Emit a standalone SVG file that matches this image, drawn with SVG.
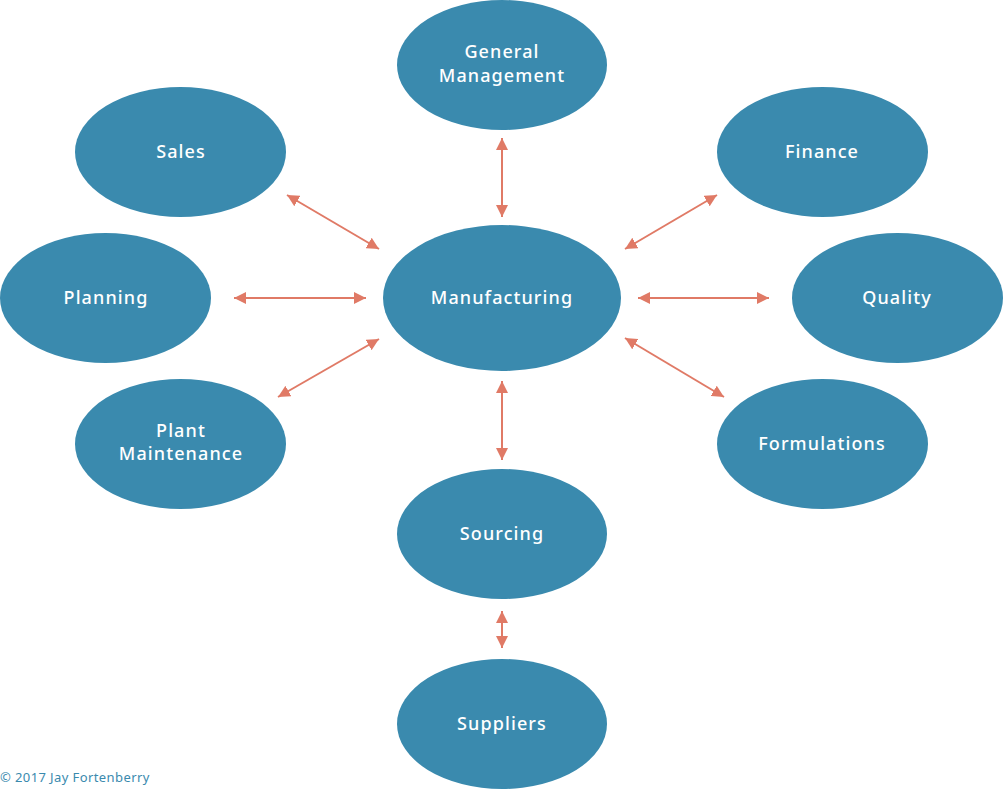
<svg xmlns="http://www.w3.org/2000/svg" width="1004" height="790" viewBox="0 0 1004 790">
<style>
.n{fill:#3a8aae}
.t{fill:#fff;font-family:"Noto Sans","Open Sans",sans-serif;font-size:18px;font-weight:500;letter-spacing:1.1px;text-anchor:middle}
.c{stroke:#e07a66;stroke-width:2;fill:none;marker-start:url(#ah);marker-end:url(#ah)}
.cp{fill:#3a8aae;font-family:"Noto Sans","Open Sans",sans-serif;font-size:13px;letter-spacing:0.4px}
</style>
<defs>
<marker id="ah" viewBox="0 0 12 12" refX="12" refY="6" markerWidth="12" markerHeight="12" markerUnits="userSpaceOnUse" orient="auto-start-reverse">
<path d="M0,0 L12,6 L0,12 Z" fill="#e07a66"/>
</marker>
</defs>
<rect width="1004" height="790" fill="#fff"/>
<g id="connectors">
<line class="c" x1="502" y1="138" x2="502" y2="217"/>
<line class="c" x1="287" y1="195" x2="379" y2="249"/>
<line class="c" x1="234" y1="298" x2="366" y2="298"/>
<line class="c" x1="278" y1="397" x2="379" y2="339"/>
<line class="c" x1="625" y1="249" x2="717" y2="195"/>
<line class="c" x1="638" y1="298" x2="769" y2="298"/>
<line class="c" x1="625" y1="338" x2="724" y2="397"/>
<line class="c" x1="502" y1="381" x2="502" y2="460"/>
<line class="c" x1="502" y1="611" x2="502" y2="648"/>
</g>
<g id="general-management"><ellipse class="n" cx="502" cy="65" rx="105" ry="65"/><text class="t" x="502" y="58">General</text><text class="t" x="502" y="82">Management</text></g>
<g id="sales"><ellipse class="n" cx="180.500" cy="152" rx="105.500" ry="65"/><text class="t" x="181" y="158">Sales</text></g>
<g id="finance"><ellipse class="n" cx="822.500" cy="152" rx="105.500" ry="65"/><text class="t" x="822" y="158">Finance</text></g>
<g id="planning"><ellipse class="n" cx="105.500" cy="298" rx="105.500" ry="65"/><text class="t" x="106" y="304">Planning</text></g>
<g id="manufacturing"><ellipse class="n" cx="502" cy="298" rx="119" ry="73"/><text class="t" x="502" y="304">Manufacturing</text></g>
<g id="quality"><ellipse class="n" cx="897.500" cy="298" rx="105.500" ry="65"/><text class="t" x="897" y="304">Quality</text></g>
<g id="plant-maintenance"><ellipse class="n" cx="180.500" cy="444" rx="105.500" ry="65"/><text class="t" x="181" y="437">Plant</text><text class="t" x="181" y="460">Maintenance</text></g>
<g id="formulations"><ellipse class="n" cx="822.500" cy="444" rx="105.500" ry="65"/><text class="t" x="822" y="450">Formulations</text></g>
<g id="sourcing"><ellipse class="n" cx="502" cy="534" rx="105" ry="65"/><text class="t" x="502" y="540">Sourcing</text></g>
<g id="suppliers"><ellipse class="n" cx="502" cy="724" rx="105" ry="65"/><text class="t" x="502" y="730">Suppliers</text></g>
<text class="cp" x="0" y="782">© 2017 Jay Fortenberry</text>
</svg>
